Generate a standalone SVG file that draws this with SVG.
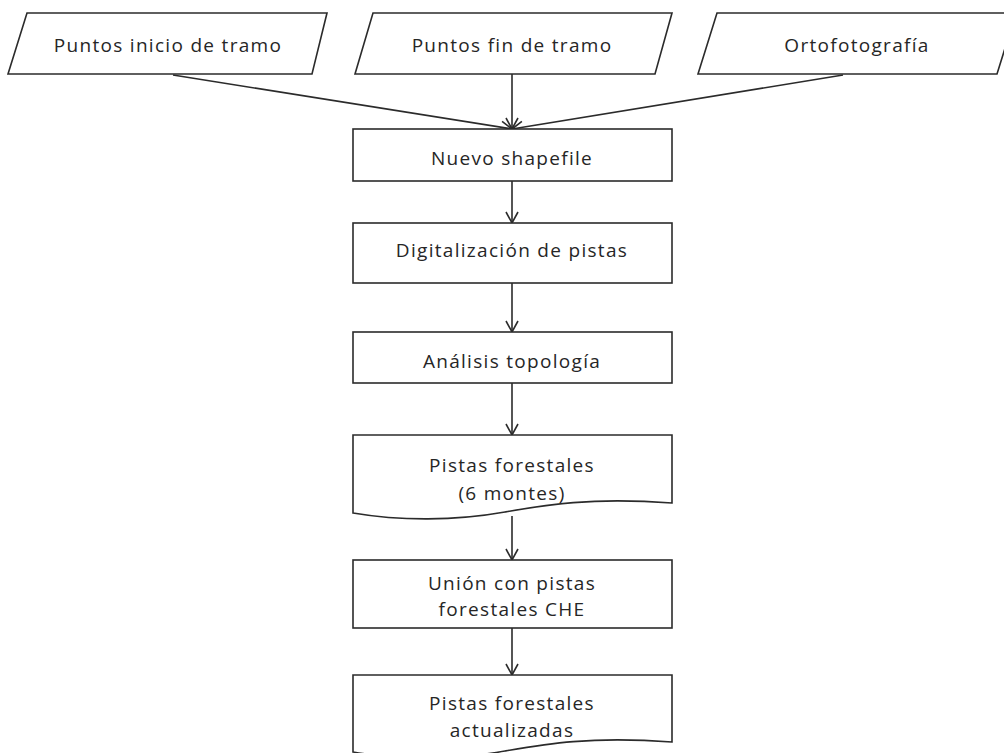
<svg xmlns="http://www.w3.org/2000/svg" width="1004" height="753" viewBox="0 0 1004 753">
<defs>
<style>
.s{fill:#fff;stroke:#2b2b2b;stroke-width:1.6}
.c{fill:none;stroke:#2b2b2b;stroke-width:1.6}
text{font-family:"Open Sans","Noto Sans",sans-serif;font-size:19px;fill:#262626;text-anchor:middle;letter-spacing:1.3px}
</style>
<marker id="a" viewBox="0 0 14 14" refX="13" refY="7" markerWidth="14" markerHeight="14" markerUnits="userSpaceOnUse" orient="auto">
<path d="M2,1 L13,7 L2,13" fill="none" stroke="#2b2b2b" stroke-width="1.6"/>
</marker>
</defs>
<rect width="1004" height="753" fill="#fff"/>
<g id="connectors">
<line class="c" x1="173" y1="75" x2="512" y2="129" marker-end="url(#a)"/>
<line class="c" x1="512" y1="74" x2="512" y2="129" marker-end="url(#a)"/>
<line class="c" x1="843" y1="75" x2="512" y2="129" marker-end="url(#a)"/>
<line class="c" x1="512" y1="181" x2="512" y2="223" marker-end="url(#a)"/>
<line class="c" x1="512" y1="283" x2="512" y2="332" marker-end="url(#a)"/>
<line class="c" x1="512" y1="383" x2="512" y2="435" marker-end="url(#a)"/>
<line class="c" x1="512" y1="516" x2="512" y2="560" marker-end="url(#a)"/>
<line class="c" x1="512" y1="628" x2="512" y2="675" marker-end="url(#a)"/>
</g>
<g id="n1">
<polygon class="s" points="27,13 327,13 312,74 8,74"/>
<text x="168" y="52">Puntos inicio de tramo</text>
</g>
<g id="n2">
<polygon class="s" points="373,13 672,13 655,74 355,74"/>
<text x="512" y="52">Puntos fin de tramo</text>
</g>
<g id="n3">
<polygon class="s" points="717,13 1016,13 997,74 698,74"/>
<text x="857" y="52">Ortofotografía</text>
</g>
<g id="n4">
<rect class="s" x="353" y="129" width="319" height="52"/>
<text x="512" y="165">Nuevo shapefile</text>
</g>
<g id="n5">
<rect class="s" x="353" y="223" width="319" height="60"/>
<text x="512" y="257">Digitalización de pistas</text>
</g>
<g id="n6">
<rect class="s" x="353" y="332" width="319" height="51"/>
<text x="512" y="368">Análisis topología</text>
</g>
<g id="n7">
<path class="s" d="M353,435 H672 V503 C590,497 545,505 505,512 C455,521 400,521 353,513 Z"/>
<text x="512" y="472">Pistas forestales</text>
<text x="512" y="500">(6 montes)</text>
</g>
<g id="n8">
<rect class="s" x="353" y="560" width="319" height="68"/>
<text x="512" y="590">Unión con pistas</text>
<text x="512" y="616">forestales CHE</text>
</g>
<g id="n9">
<path class="s" d="M353,675 H672 V742 C590,736 545,744 505,751 C455,760 400,760 353,752 Z"/>
<text x="512" y="710">Pistas forestales</text>
<text x="512" y="737">actualizadas</text>
</g>
</svg>
